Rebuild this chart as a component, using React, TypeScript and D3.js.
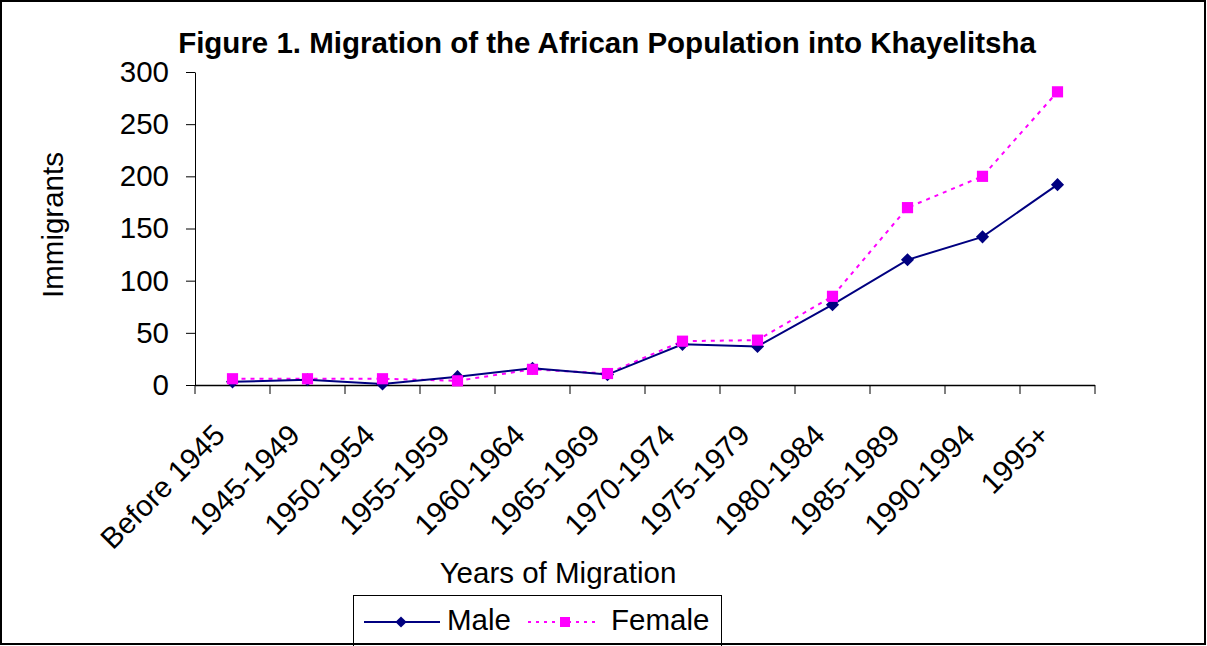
import React, { useEffect, useRef } from 'react';
import * as d3 from 'd3';

const categories = [
  'Before 1945', '1945-1949', '1950-1954', '1955-1959', '1960-1964', '1965-1969',
  '1970-1974', '1975-1979', '1980-1984', '1985-1989', '1990-1994', '1995+',
];
const maleValues = [3, 5, 1, 8, 16, 10, 39, 37, 77, 120, 142, 192];
const femaleValues = [6, 6, 6, 4, 15, 11, 42, 43, 85, 170, 200, 281];
const yTicks = [0, 50, 100, 150, 200, 250, 300];

const FONT = '"Liberation Sans", Arial, sans-serif';
const FS = 29.5;
const MALE_COLOR = '#000080';
const FEMALE_COLOR = '#FF00FF';

const App: React.FC = () => {
  const svgRef = useRef<SVGSVGElement>(null);

  useEffect(() => {
    document.body.style.margin = '0';
    if (!svgRef.current) return;
    const width = 1207;
    const height = 646;

    const svg = d3.select(svgRef.current);
    svg.selectAll('*').remove();
    svg.attr('width', width).attr('height', height).style('display', 'block');

    svg.append('rect')
      .attr('width', width).attr('height', height).attr('fill', '#fff');

    // Scales
    const x = d3.scaleBand<string>()
      .domain(categories)
      .range([195, 1095])
      .paddingInner(0)
      .paddingOuter(0);
    const y = d3.scaleLinear().domain([0, 300]).range([385, 72]);
    const cx = (c: string) => (x(c) || 0) + x.bandwidth() / 2;

    // Title
    svg.append('text')
      .attr('x', 607).attr('y', 53)
      .attr('text-anchor', 'middle')
      .attr('font-family', FONT).attr('font-weight', 'bold').attr('font-size', FS)
      .text('Figure 1. Migration of the African Population into Khayelitsha');

    // Y axis
    const yAxis = svg.append('g')
      .attr('transform', 'translate(195,0)')
      .call(d3.axisLeft(y).tickValues(yTicks).tickSize(9).tickPadding(17).tickSizeOuter(0));
    yAxis.selectAll('text').attr('font-family', FONT).attr('font-size', FS).attr('fill', '#000');
    yAxis.selectAll('line, path').attr('stroke', '#000');

    // X axis line and ticks at band boundaries
    const boundaries = categories.map(c => x(c) || 0).concat([x.range()[1]]);
    svg.append('line')
      .attr('x1', 195).attr('x2', 1095).attr('y1', 385.5).attr('y2', 385.5)
      .attr('stroke', '#000').attr('stroke-width', 1.5);
    svg.selectAll('.xtick')
      .data(boundaries)
      .enter().append('line')
      .attr('x1', d => d).attr('x2', d => d)
      .attr('y1', 385).attr('y2', 394)
      .attr('stroke', '#000');

    // X tick labels
    svg.selectAll('.xlabel')
      .data(categories)
      .enter().append('text')
      .attr('transform', d => `translate(${cx(d) - 6},${437}) rotate(-45)`)
      .attr('text-anchor', 'end')
      .attr('font-family', FONT).attr('font-size', FS)
      .text(d => d);

    // Axis titles
    svg.append('text')
      .attr('x', 558).attr('y', 583)
      .attr('text-anchor', 'middle')
      .attr('font-family', FONT).attr('font-size', FS)
      .text('Years of Migration');
    svg.append('text')
      .attr('transform', 'translate(63,225) rotate(-90)')
      .attr('text-anchor', 'middle')
      .attr('font-family', FONT).attr('font-size', FS)
      .text('Immigrants');

    // Lines
    const line = d3.line<number>()
      .x((_, i) => cx(categories[i]))
      .y(d => y(d));

    svg.append('path')
      .datum(femaleValues)
      .attr('d', line)
      .attr('fill', 'none')
      .attr('stroke', FEMALE_COLOR)
      .attr('stroke-width', 2)
      .attr('stroke-dasharray', '4,5');

    svg.append('path')
      .datum(maleValues)
      .attr('d', line)
      .attr('fill', 'none')
      .attr('stroke', MALE_COLOR)
      .attr('stroke-width', 2);

    // Markers
    const diamond = d3.symbol().type(d3.symbolDiamond2).size(110);
    const square = d3.symbol().type(d3.symbolSquare).size(125);

    svg.selectAll('.male-pt')
      .data(maleValues)
      .enter().append('path')
      .attr('d', diamond)
      .attr('transform', (d, i) => `translate(${cx(categories[i])},${y(d)})`)
      .attr('fill', MALE_COLOR);

    svg.selectAll('.female-pt')
      .data(femaleValues)
      .enter().append('path')
      .attr('d', square)
      .attr('transform', (d, i) => `translate(${cx(categories[i])},${y(d)})`)
      .attr('fill', FEMALE_COLOR);

    // Legend
    const legendDiamond = d3.symbol().type(d3.symbolDiamond2).size(80);
    const legendSquare = d3.symbol().type(d3.symbolSquare).size(100);
    const legend = svg.append('g');
    legend.append('rect')
      .attr('x', 353.5).attr('y', 595.5).attr('width', 368).attr('height', 60)
      .attr('fill', '#fff').attr('stroke', '#000').attr('stroke-width', 1);
    legend.append('line')
      .attr('x1', 364).attr('x2', 440).attr('y1', 622).attr('y2', 622)
      .attr('stroke', MALE_COLOR).attr('stroke-width', 2);
    legend.append('path')
      .attr('d', legendDiamond)
      .attr('transform', 'translate(401,622)')
      .attr('fill', MALE_COLOR);
    legend.append('text')
      .attr('x', 447).attr('y', 630)
      .attr('font-family', FONT).attr('font-size', FS)
      .text('Male');
    legend.append('line')
      .attr('x1', 528).attr('x2', 600).attr('y1', 622).attr('y2', 622)
      .attr('stroke', FEMALE_COLOR).attr('stroke-width', 2)
      .attr('stroke-dasharray', '3,5');
    legend.append('path')
      .attr('d', legendSquare)
      .attr('transform', 'translate(565,622)')
      .attr('fill', FEMALE_COLOR);
    legend.append('text')
      .attr('x', 611).attr('y', 630)
      .attr('font-family', FONT).attr('font-size', FS)
      .text('Female');

    // Outer border
    svg.append('rect')
      .attr('x', 1).attr('y', 1).attr('width', width - 3).attr('height', height - 3)
      .attr('fill', 'none').attr('stroke', '#000').attr('stroke-width', 2);
  }, []);

  return <svg ref={svgRef}></svg>;
};

export default App;
